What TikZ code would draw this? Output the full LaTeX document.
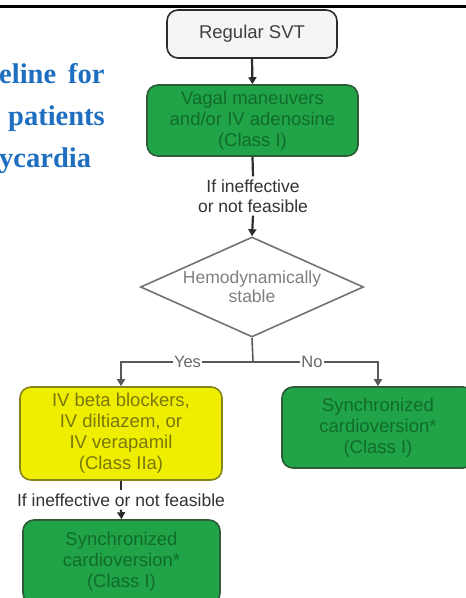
\documentclass[tikz,border=0pt]{standalone}
\usepackage{fontspec}
\setmainfont{Liberation Sans}
\newfontfamily\titlefont{Liberation Serif}
\usetikzlibrary{shapes.geometric,arrows.meta}
\definecolor{boxgreen}{HTML}{20A447}
\definecolor{greenedge}{HTML}{2E5B38}
\definecolor{greentext}{HTML}{116C2B}
\definecolor{boxyellow}{HTML}{F0EE00}
\definecolor{yellowedge}{HTML}{85851A}
\definecolor{yellowtext}{HTML}{7A780C}
\definecolor{titleblue}{HTML}{1F6FC0}
\definecolor{linegray}{HTML}{2C2C2C}
\tikzset{
  boxtext/.style={font=\fontsize{18.5}{21}\selectfont, align=center},
  svtbox/.style={draw=linegray, line width=1.6pt, fill=white!96!black, rounded corners=11pt,
    minimum width=170pt, minimum height=48pt, boxtext, text=black!75},
  greenbox/.style={draw=greenedge, line width=1.6pt, fill=boxgreen, rounded corners=11pt,
    boxtext, text=greentext},
  yellowbox/.style={draw=yellowedge, line width=1.6pt, fill=boxyellow, rounded corners=11pt,
    boxtext, text=yellowtext},
  decision/.style={diamond, draw=black!55, line width=1.6pt, fill=white, aspect=2.23,
    minimum width=223pt, minimum height=100pt, inner sep=0pt,
    font=\fontsize{17.5}{19}\selectfont, align=center, text=black!50},
  cond/.style={font=\fontsize{17.5}{20}\selectfont, align=center, text=black!80, inner sep=3pt},
  flow/.style={draw=linegray, line width=2.2pt},
  flowarrow/.style={flow, -{Triangle[length=7pt,width=8pt]}},
  branch/.style={draw=black!65, line width=1.6pt},
  brancharrow/.style={branch, -{Triangle[length=7pt,width=8pt]}},
  branchlabel/.style={font=\fontsize{16.5}{18}\selectfont, text=black!60, fill=white, inner sep=1pt},
  title/.style={font=\titlefont\bfseries\fontsize{28.5}{32}\selectfont, text=titleblue, inner sep=0pt}
}
\begin{document}
\begin{tikzpicture}[x=1pt,y=-1pt]
\useasboundingbox (0,0) rectangle (466,598);
\clip (0,0) rectangle (466,598);
\fill[white] (0,0) rectangle (466,598);
% top rule
\draw[line width=3pt] (0,6.5) -- (466,6.5);
% left title fragments
\node[title, anchor=base west] (t1) at (-1,83) {eline\hskip 12pt for};
\node[title, anchor=base east] (t2) at (105,125) {patients};
\node[title, anchor=base west] (t3) at (-1,167) {ycardia};
% flowchart nodes
\node[svtbox] (svt) at (252,34) {Regular SVT};
\node[greenbox, minimum width=211pt, minimum height=71pt] (vagal) at (252.5,120.5)
  {Vagal maneuvers\\and/or IV adenosine\\(Class I)};
\node[cond] (lab1) at (253,196) {If ineffective\\or not feasible};
\node[decision] (dia) at (252,287) {Hemodynamically\\stable};
\coordinate (split) at (253,362);
\node[yellowbox, minimum width=202pt, minimum height=93pt] (yes) at (121,433.5)
  {IV beta blockers,\\IV diltiazem, or\\IV verapamil\\(Class IIa)};
\node[greenbox, minimum width=192pt, minimum height=81pt] (no) at (378,427.5)
  {Synchronized\\cardioversion*\\(Class I)};
\node[cond] (lab2) at (121,500) {If ineffective or not feasible};
\node[greenbox, minimum width=197pt, minimum height=84pt] (cv) at (121.5,562)
  {Synchronized\\cardioversion*\\(Class I)};
% connectors
\draw[flowarrow] (svt.south) -- (vagal.north);
\draw[flow] (vagal.south) -- (lab1.north);
\draw[flowarrow] (lab1.south) -- (dia.north);
\draw[branch] (dia.south) -- (split);
\draw[brancharrow] (split) -| node[pos=0.248, branchlabel] {Yes} (yes.north);
\draw[brancharrow] (split) -| node[pos=0.236, branchlabel] {No} (no.north);
\draw[flow] (yes.south) -- (lab2.north);
\draw[flowarrow] (lab2.south) -- (cv.north);
\end{tikzpicture}
\end{document}
